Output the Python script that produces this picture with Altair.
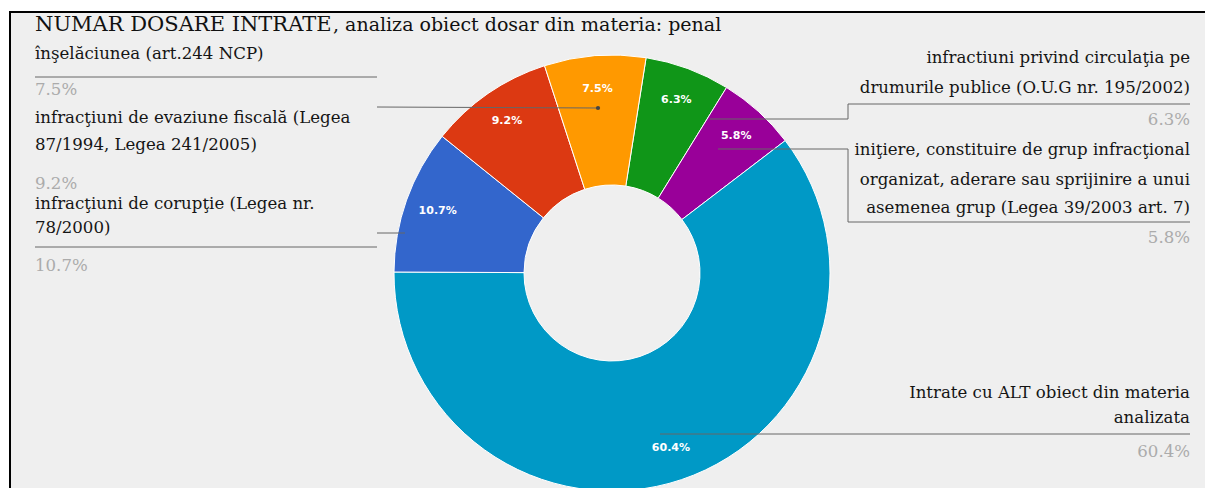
import math
import altair as alt
import pandas as pd

# ---------------- data ----------------
categories = [
    "infractiuni privind circulaţia pe drumurile publice (O.U.G nr. 195/2002)",
    "iniţiere, constituire de grup infracţional organizat, aderare sau sprijinire a unui asemenea grup (Legea 39/2003 art. 7)",
    "Intrate cu ALT obiect din materia analizata",
    "infracţiuni de corupţie (Legea nr. 78/2000)",
    "infracţiuni de evaziune fiscală (Legea 87/1994, Legea 241/2005)",
    "înşelăciunea (art.244 NCP)",
]
shares = [6.3, 5.8, 60.4, 10.7, 9.2, 7.5]
colors = ["#109618", "#990099", "#0099c6", "#3366cc", "#dc3912", "#ff9900"]
pct_labels = ["6.3%", "5.8%", "60.4%", "10.7%", "9.2%", "7.5%"]

title_main = "NUMAR DOSARE INTRATE"
title_rest = ", analiza obiect dosar din materia: penal"

# label text lines (left column / right column), with percentage under each
left_lines = [
    ["înşelăciunea (art.244 NCP)"],
    ["infracţiuni de evaziune fiscală (Legea", "87/1994, Legea 241/2005)"],
    ["infracţiuni de corupţie (Legea nr.", "78/2000)"],
]
left_pcts = ["7.5%", "9.2%", "10.7%"]
right_lines = [
    ["infractiuni privind circulaţia pe", "drumurile publice (O.U.G nr. 195/2002)"],
    ["iniţiere, constituire de grup infracţional", "organizat, aderare sau sprijinire a unui",
     "asemenea grup (Legea 39/2003 art. 7)"],
    ["Intrate cu ALT obiect din materia", "analizata"],
]
right_pcts = ["6.3%", "5.8%", "60.4%"]

# ---------------- layout (pixels, chart coords = page - 8) ----------------
W, H = 1199, 480
OFF = 8
cx, cy = 612 - OFF, 273 - OFF
R_OUT, R_IN, R_LBL = 218, 88, 185
start = math.radians(9)

LEFT_X = 35 - OFF
RIGHT_X = 1190 - OFF
left_line_y = [[54], [118, 145], [204, 228]]
left_pct_y = [90, 184, 266]
right_line_y = [[58, 88], [150, 180, 208], [393, 418]]
right_pct_y = [120, 238, 452]

DARK = "#151515"
GREY = "#ababab"
LINE = "#666666"
SERIF = "DejaVu Serif"
FS = 16.6

# segments (page coords)
segs = [
    (35, 77, 377, 77), (377, 107, 598, 108),            # înşelăciunea
    (35, 247, 377, 247), (377, 233, 405, 233),          # corupţie
    (848, 104, 1190, 104), (848, 104, 848, 119), (848, 119, 710, 119),   # circulaţie
    (848, 149, 718, 149), (848, 149, 848, 222), (848, 222, 1190, 222),   # grup
    (660, 434, 1190, 434),                              # ALT
]

# ---------------- tables ----------------
df = pd.DataFrame({
    "name": categories,
    "share": shares,
    "pct": pct_labels,
    "idx": list(range(len(categories))),
})

ltxt, rtxt = [], []
for lines, ys, p, py in zip(left_lines, left_line_y, left_pcts, left_pct_y):
    for t, y in zip(lines, ys):
        ltxt.append({"t": t, "x": LEFT_X, "y": y - OFF, "c": DARK})
    ltxt.append({"t": p, "x": LEFT_X, "y": py - OFF, "c": GREY})
for lines, ys, p, py in zip(right_lines, right_line_y, right_pcts, right_pct_y):
    for t, y in zip(lines, ys):
        rtxt.append({"t": t, "x": RIGHT_X, "y": y - OFF, "c": DARK})
    rtxt.append({"t": p, "x": RIGHT_X, "y": py - OFF, "c": GREY})
ltxt = pd.DataFrame(ltxt)
rtxt = pd.DataFrame(rtxt)
segdf = pd.DataFrame([{"x": a - OFF, "y": b - OFF, "x2": c - OFF, "y2": d - OFF} for a, b, c, d in segs])
dotdf = pd.DataFrame([{"x": 598 - OFF, "y": 108 - OFF}])
one = pd.DataFrame({"k": [0]})

theta_scale = alt.Scale(range=[start, start + 2 * math.pi])

PANEL_R = W - 2
panel = alt.Chart(one).mark_rect(fill="#efefef", strokeWidth=0).encode(
    x=alt.value(2), y=alt.value(4), x2=alt.value(PANEL_R), y2=alt.value(H + 40)
)
frame_top = alt.Chart(one).mark_rule(color="#000000", strokeWidth=2).encode(
    x=alt.value(1), x2=alt.value(PANEL_R), y=alt.value(4), y2=alt.value(4)
)
frame_left = alt.Chart(one).mark_rule(color="#000000", strokeWidth=2).encode(
    x=alt.value(2), x2=alt.value(2), y=alt.value(3), y2=alt.value(H + 40)
)

arcs = alt.Chart(df).mark_arc(
    innerRadius=R_IN, outerRadius=R_OUT, stroke="white", strokeWidth=1
).encode(
    theta=alt.Theta("share:Q", stack=True, scale=theta_scale),
    color=alt.Color("name:N", scale=alt.Scale(domain=categories, range=colors), legend=None),
    order=alt.Order("idx:Q"),
    x=alt.value(cx), y=alt.value(cy),
)

inner_txt = alt.Chart(df).mark_text(
    radius=R_LBL, font="DejaVu Sans", fontSize=11, fontWeight="bold", color="white"
).encode(
    theta=alt.Theta("share:Q", stack=True),
    order=alt.Order("idx:Q"),
    text="pct:N",
    x=alt.value(cx), y=alt.value(cy),
)

rules = alt.Chart(segdf).mark_rule(color=LINE, strokeWidth=1).encode(
    x=alt.X("x:Q", scale=None), y=alt.Y("y:Q", scale=None),
    x2="x2:Q", y2="y2:Q",
)
dot = alt.Chart(dotdf).mark_circle(color="#444444", size=18, opacity=1).encode(
    x=alt.X("x:Q", scale=None), y=alt.Y("y:Q", scale=None)
)

left_text = alt.Chart(ltxt).mark_text(align="left", baseline="middle", font=SERIF, fontSize=FS).encode(
    x=alt.X("x:Q", scale=None), y=alt.Y("y:Q", scale=None),
    text="t:N", color=alt.Color("c:N", scale=None),
)
right_text = alt.Chart(rtxt).mark_text(align="right", baseline="middle", font=SERIF, fontSize=FS).encode(
    x=alt.X("x:Q", scale=None), y=alt.Y("y:Q", scale=None),
    text="t:N", color=alt.Color("c:N", scale=None),
)

title1 = alt.Chart(one).mark_text(
    align="left", baseline="alphabetic", font=SERIF, fontSize=21, color="#111111"
).encode(x=alt.value(35 - OFF), y=alt.value(31 - OFF), text=alt.value(title_main))
title2 = alt.Chart(one).mark_text(
    align="left", baseline="alphabetic", font=SERIF, fontSize=19, color="#111111"
).encode(x=alt.value(333 - OFF), y=alt.value(31 - OFF), text=alt.value(title_rest))

chart = alt.layer(
    panel, frame_top, frame_left, arcs, inner_txt, rules, dot,
    left_text, right_text, title1, title2
).properties(
    width=W, height=H, padding=0, background="white",
    autosize=alt.AutoSizeParams(type="none"),
).configure_view(stroke=None)

chart.save("out.html", embed_options={"renderer": "svg", "actions": False})
